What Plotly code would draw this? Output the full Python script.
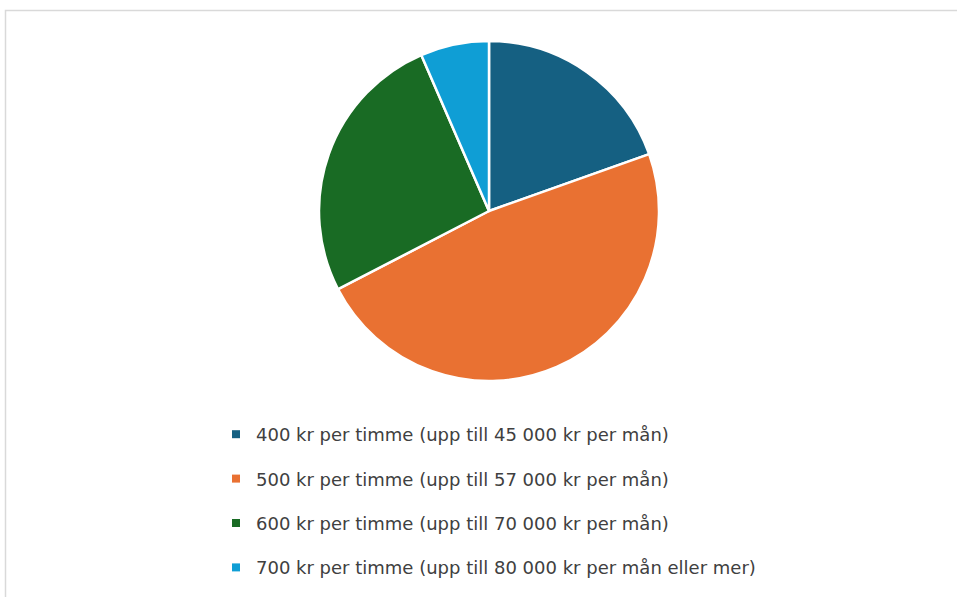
import plotly.graph_objects as go

labels = [
    "400 kr per timme (upp till 45 000 kr per mån)",
    "500 kr per timme (upp till 57 000 kr per mån)",
    "600 kr per timme (upp till 70 000 kr per mån)",
    "700 kr per timme (upp till 80 000 kr per mån eller mer)",
]
values = [9, 22, 12, 3]
colors = ["#156082", "#E97132", "#196B24", "#0F9ED5"]

W, H = 957, 597
cx, cy, r = 489, 211, 170

fig = go.Figure()
fig.add_trace(go.Pie(
    labels=labels, values=values, sort=False, direction="clockwise", rotation=0,
    marker=dict(colors=colors, line=dict(color="white", width=2.5)),
    textinfo="none", hoverinfo="label+value+percent", showlegend=False,
    domain=dict(x=[(cx - r) / W, (cx + r) / W], y=[1 - (cy + r) / H, 1 - (cy - r) / H]),
))
for i, (lab, col) in enumerate(zip(labels, colors)):
    fig.add_trace(go.Scatter(
        x=[None], y=[None], mode="markers", name=lab, legendgroup=f"g{i}",
        marker=dict(symbol="square", size=8, color=col),
    ))

fig.update_layout(
    width=W, height=H, margin=dict(l=0, r=0, t=0, b=0),
    paper_bgcolor="white", plot_bgcolor="white",
    xaxis=dict(visible=False), yaxis=dict(visible=False),
    legend=dict(x=216 / W, y=1 - 416 / H, xanchor="left", yanchor="top",
                font=dict(family="DejaVu Sans", size=18, color="#404040"),
                tracegroupgap=18, bgcolor="rgba(0,0,0,0)"),
    shapes=[dict(type="rect", xref="paper", yref="paper",
                 x0=5.5 / W, x1=1.05, y0=-0.05, y1=1 - 10.5 / H,
                 line=dict(color="#D9D9D9", width=1.5), fillcolor="rgba(0,0,0,0)")],
)
fig.write_html("out.html", config={"displayModeBar": False},
               post_script="document.body.style.margin='0';document.body.style.overflow='hidden';")
